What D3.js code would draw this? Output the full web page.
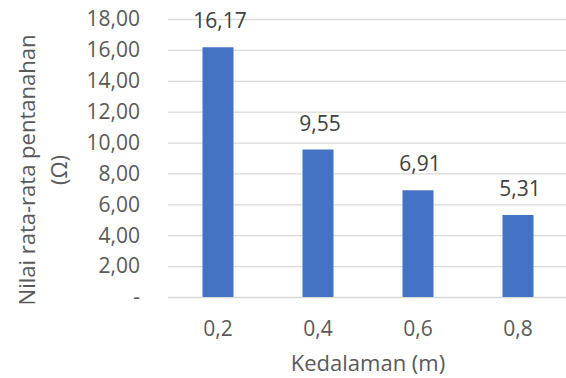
<!DOCTYPE html>
<html>
<head>
<meta charset="utf-8">
<script src="https://cdn.jsdelivr.net/npm/d3@7"></script>
<style>
  html, body { margin: 0; padding: 0; background: #fff; }
  svg { display: block; }
  text { font-family: "Open Sans", "Noto Sans", sans-serif; }
</style>
</head>
<body>
<svg id="chart" width="566" height="378"></svg>
<script>
// Depth categories and mean grounding resistance
const depths = ["0,2", "0,4", "0,6", "0,8"];
const resistance = [16.17, 9.55, 6.91, 5.31];
const yTicks = [0, 2, 4, 6, 8, 10, 12, 14, 16, 18];
const yTitleLines = ["Nilai rata-rata pentanahan", "(Ω)"];
const xTitle = "Kedalaman (m)";

const fmt = v => v === 0 ? "-" : v.toFixed(2).replace(".", ",");

const svg = d3.select("#chart");
const plot = { left: 168, right: 568, top: 19, bottom: 297 };

const x = d3.scaleBand()
  .domain(depths)
  .range([plot.left, plot.right])
  .paddingInner(0.69)
  .paddingOuter(0.345);

const y = d3.scaleLinear()
  .domain([0, 18])
  .range([plot.bottom, plot.top]);

// Horizontal gridlines
svg.append("g")
  .selectAll("line")
  .data(yTicks)
  .join("line")
  .attr("x1", plot.left)
  .attr("x2", plot.right)
  .attr("y1", d => y(d) + 0.5)
  .attr("y2", d => y(d) + 0.5)
  .attr("stroke", "#d9d9d9")
  .attr("stroke-width", 1.3);

// Y tick labels
svg.append("g")
  .selectAll("text")
  .data(yTicks)
  .join("text")
  .attr("x", 140)
  .attr("y", d => y(d))
  .attr("dy", "0.35em")
  .attr("text-anchor", "end")
  .attr("font-size", 21)
  .attr("fill", "#595959")
  .text(fmt);

// Bars
svg.append("g")
  .selectAll("rect")
  .data(resistance)
  .join("rect")
  .attr("x", (d, i) => x(depths[i]))
  .attr("width", x.bandwidth())
  .attr("y", d => y(d))
  .attr("height", d => y(0) - y(d))
  .attr("fill", "#4472c4");

// Value labels above bars
svg.append("g")
  .selectAll("text")
  .data(resistance)
  .join("text")
  .attr("x", (d, i) => x(depths[i]) + x.bandwidth() / 2 + 2)
  .attr("y", d => y(d) - 19)
  .attr("text-anchor", "middle")
  .attr("font-size", 21)
  .attr("fill", "#404040")
  .text(fmt);

// X tick labels
svg.append("g")
  .selectAll("text")
  .data(depths)
  .join("text")
  .attr("x", d => x(d) + x.bandwidth() / 2)
  .attr("y", 336)
  .attr("text-anchor", "middle")
  .attr("font-size", 21)
  .attr("fill", "#595959")
  .text(d => d);

// X axis title
svg.append("text")
  .attr("x", (plot.left + plot.right) / 2)
  .attr("y", 371)
  .attr("text-anchor", "middle")
  .attr("font-size", 22)
  .attr("fill", "#595959")
  .text(xTitle);

// Y axis title (two rotated lines)
const yTitle = svg.append("text")
  .attr("transform", "translate(0,170) rotate(-90)")
  .attr("text-anchor", "middle")
  .attr("font-size", 22)
  .attr("fill", "#595959");
yTitle.selectAll("tspan")
  .data(yTitleLines)
  .join("tspan")
  .attr("x", 0)
  .attr("y", (d, i) => 35 + i * 32)
  .text(d => d);
</script>
</body>
</html>
